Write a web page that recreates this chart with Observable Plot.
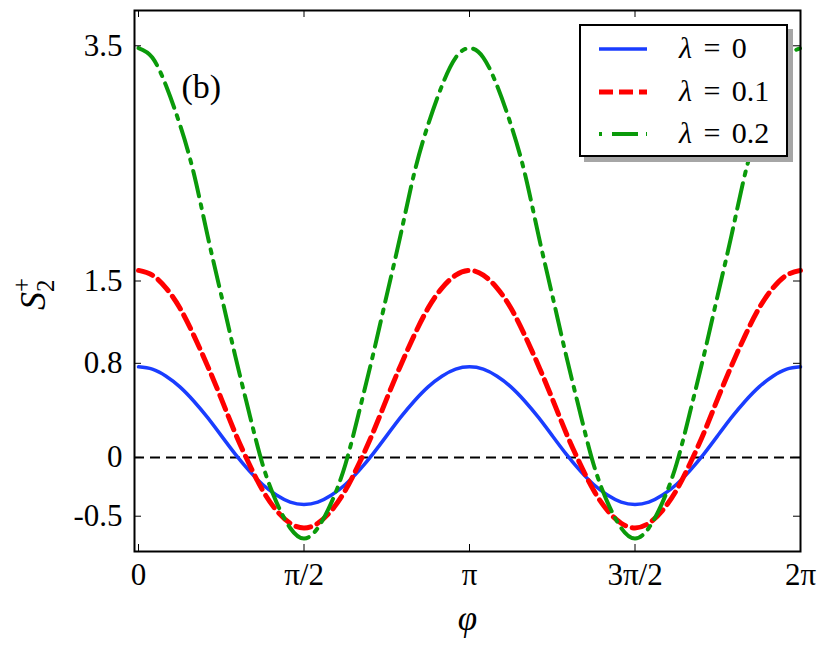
<!DOCTYPE html>
<html><head><meta charset="utf-8">
<script src="https://cdn.jsdelivr.net/npm/d3@7"></script>
<script src="https://cdn.jsdelivr.net/npm/@observablehq/plot@0.6"></script>
<style>
html,body{margin:0;padding:0;background:#fff;}
#wrap{position:relative;width:831px;height:648px;overflow:hidden;}
#legend{position:absolute;left:579px;top:24px;width:205px;height:129px;border:2px solid #000;background:#fff;box-shadow:5px 5px 0 #a6a6a6;font-family:"Liberation Serif",serif;font-size:30px;color:#000;}
.row{position:absolute;left:0;height:40px;width:100%;}
.row svg{position:absolute;left:18px;top:18px;}
.row .lab{position:absolute;left:98px;top:0;line-height:40px;white-space:nowrap;}
.lam{font-style:italic;}
.eq{margin:0 0.38em;}
</style></head><body>
<div id="wrap"></div>
<script>
// sample positions phi = k*pi/24, k = 0..48
const phi = d3.range(49).map(k => k * Math.PI / 24);

const lambda0 = [
  0.77, 0.75, 0.69, 0.60, 0.48, 0.34, 0.185, 0.03, -0.11, -0.23, -0.32, -0.38, -0.40,
  -0.38, -0.32, -0.23, -0.11, 0.03, 0.185, 0.34, 0.48, 0.60, 0.69, 0.75, 0.77,
  0.75, 0.69, 0.60, 0.48, 0.34, 0.185, 0.03, -0.11, -0.23, -0.32, -0.38, -0.40,
  -0.38, -0.32, -0.23, -0.11, 0.03, 0.185, 0.34, 0.48, 0.60, 0.69, 0.75, 0.77
];
const lambda01 = [
  1.59, 1.55, 1.44, 1.27, 1.04, 0.78, 0.50, 0.21, -0.05, -0.28, -0.45, -0.56, -0.60,
  -0.56, -0.45, -0.28, -0.05, 0.21, 0.50, 0.78, 1.04, 1.27, 1.44, 1.55, 1.59,
  1.55, 1.44, 1.27, 1.04, 0.78, 0.50, 0.21, -0.05, -0.28, -0.45, -0.56, -0.60,
  -0.56, -0.45, -0.28, -0.05, 0.21, 0.50, 0.78, 1.04, 1.27, 1.44, 1.55, 1.59
];
const lambda02 = [
  3.48, 3.40, 3.16, 2.83, 2.42, 1.89, 1.38, 0.87, 0.39, -0.06, -0.38, -0.60, -0.69,
  -0.60, -0.38, -0.06, 0.39, 0.87, 1.38, 1.89, 2.42, 2.83, 3.16, 3.40, 3.48,
  3.40, 3.16, 2.83, 2.42, 1.89, 1.38, 0.87, 0.39, -0.06, -0.38, -0.60, -0.69,
  -0.60, -0.38, -0.06, 0.39, 0.87, 1.38, 1.89, 2.42, 2.83, 3.16, 3.40, 3.48
];

const seriesLabels = ["0", "0.1", "0.2"];
const seriesColors = ["#1a3dff", "#ff0000", "#0a9a0a"];

const xTicks = [0, Math.PI / 2, Math.PI, 3 * Math.PI / 2, 2 * Math.PI];
const xTickLabels = ["0", "π/2", "π", "3π/2", "2π"];
const yTicks = [-0.5, 0, 0.8, 1.5, 3.5];
const yTickLabels = ["-0.5", "0", "0.8", "1.5", "3.5"];

const W = 831, H = 648, mL = 134, mR = 31, mT = 10, mB = 97;
const fw = W - mL - mR, fh = H - mT - mB, tl = 7;

const toRows = arr => phi.map((p, i) => ({phi: p, s: arr[i]}));

const svg = Plot.plot({
  width: W, height: H,
  marginLeft: mL, marginRight: mR, marginTop: mT, marginBottom: mB,
  style: {fontFamily: "Liberation Serif", fontSize: "31px", background: "#fff", color: "#000", overflow: "visible"},
  x: {domain: [-0.038, 2 * Math.PI], label: null},
  y: {domain: [-0.8, 3.8], label: null},
  marks: [
    Plot.ruleY([0], {stroke: "#000", strokeWidth: 2, strokeDasharray: "10,6"}),
    Plot.line(toRows(lambda0), {x: "phi", y: "s", stroke: seriesColors[0], strokeWidth: 3.5, curve: "natural"}),
    Plot.line(toRows(lambda01), {x: "phi", y: "s", stroke: seriesColors[1], strokeWidth: 5, strokeDasharray: "15,7", curve: "natural"}),
    Plot.line(toRows(lambda02), {x: "phi", y: "s", stroke: seriesColors[2], strokeWidth: 4, strokeDasharray: "26,8,4,8", curve: "natural"}),
    Plot.tickY(yTicks, {y: d => d, insetRight: fw - tl, stroke: "#000", strokeWidth: 1}),
    Plot.tickY(yTicks, {y: d => d, insetLeft: fw - tl, stroke: "#000", strokeWidth: 1}),
    Plot.tickX(xTicks, {x: d => d, insetTop: fh - tl, stroke: "#000", strokeWidth: 1}),
    Plot.tickX(xTicks, {x: d => d, insetBottom: fh - tl, stroke: "#000", strokeWidth: 1}),
    Plot.axisY(yTicks, {tickSize: 0, tickPadding: 12, fontSize: 31, tickFormat: d => yTickLabels[yTicks.indexOf(d)], label: null}),
    Plot.axisX(xTicks, {tickSize: 0, tickPadding: 11, fontSize: 31, tickFormat: d => xTickLabels[xTicks.indexOf(d)], label: null}),
    Plot.frame({stroke: "#000", strokeWidth: 2}),
    Plot.text(["(b)"], {frameAnchor: "top-left", dx: 47, dy: 77, textAnchor: "start", lineAnchor: "middle", fontSize: 34}),
    Plot.text(["φ"], {frameAnchor: "bottom", dy: 67, lineAnchor: "middle", fontSize: 35, fontStyle: "italic"})
  ]
});

// y-axis label S_2^+
const lab = d3.select(svg).append("text")
  .attr("transform", "translate(45,294) rotate(-90)")
  .attr("text-anchor", "middle")
  .attr("font-family", "Liberation Serif")
  .attr("font-size", 36)
  .attr("fill", "#000");
lab.append("tspan").attr("font-style", "italic").text("S");
lab.append("tspan").attr("font-size", 25).attr("dy", -15).text("+");
lab.append("tspan").attr("font-size", 25).attr("dx", -14).attr("dy", 24).text("2");

const wrap = document.getElementById("wrap");
wrap.appendChild(svg);

// legend
const legend = document.createElement("div");
legend.id = "legend";
const dashes = [null, "14,6", "3,10,26,8"];
const widths = [3.5, 5, 4];
seriesLabels.forEach((t, i) => {
  const row = document.createElement("div");
  row.className = "row";
  row.style.top = (2 + i * 42.5) + "px";
  row.innerHTML = `<svg width="50" height="6"><line x1="0" x2="48" y1="3" y2="3" stroke="${seriesColors[i]}" stroke-width="${widths[i]}" ${dashes[i] ? `stroke-dasharray="${dashes[i]}"` : ""}/></svg><span class="lab"><span class="lam">λ</span><span class="eq">=</span>${t}</span>`;
  legend.appendChild(row);
});
wrap.appendChild(legend);
</script>
</body></html>
